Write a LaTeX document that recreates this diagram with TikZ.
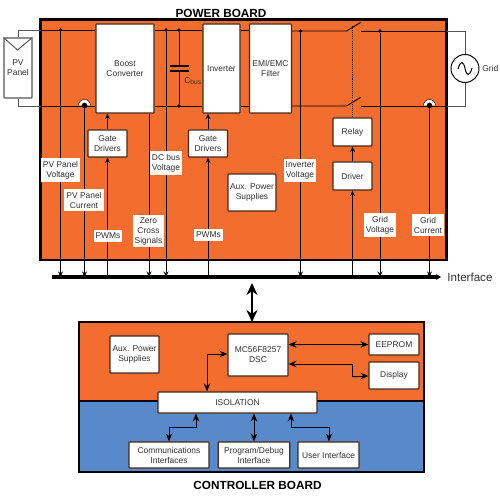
\documentclass[tikz,border=0pt]{standalone}
\usepackage{fontspec}
\setmainfont{Liberation Sans}
\usepackage{xcolor}
\usetikzlibrary{arrows.meta, positioning, calc}
\definecolor{cOrange}{RGB}{243,110,46}
\definecolor{cBlue}{RGB}{88,137,203}
\definecolor{cEdge}{RGB}{70,40,25}
\definecolor{cText}{RGB}{50,50,50}
\definecolor{cWire}{RGB}{85,85,85}
\tikzset{
	boxsize/.style 2 args={minimum width=#1*0.02cm, minimum height=#2*0.02cm},
	blk/.style     ={rectangle, draw=cEdge, line width=0.6pt, fill=white, align=center, text=cText, inner sep=0pt, rounded corners=0.3pt},
	lbl/.style     ={rectangle, fill=white, align=center, text=cText, inner xsep=1.1pt, inner ysep=1.5pt},
	title/.style   ={font=\fontsize{6.7}{8}\selectfont\bfseries, text=black},
	% wires and signals
	wire/.style    ={line width=0.55pt, black!85!cEdge},
	extwire/.style ={line width=0.55pt, cWire},
	sig/.style     ={-{Stealth[length=1.1mm, width=1mm]}, line width=0.5pt, black!85!cEdge},
	dblsig/.style  ={{Stealth[length=1.6mm, width=1.3mm]}-{Stealth[length=1.6mm, width=1.3mm]}, line width=0.55pt, black},
	joint/.style   ={circle, fill=black, minimum size=0.075cm, inner sep=0pt},
	hook/.style    ={fill=white, draw=black, line width=0.25pt},
}
\begin{document}
\begin{tikzpicture}[x=0.02cm, y=-0.02cm, font=\fontsize{4.8}{5.7}\selectfont]
	\useasboundingbox (0,0) rectangle (500,496);
	% boards
	\filldraw[fill=cOrange, draw=black, line width=1.2pt] (40.5,19.5) rectangle (446.5,260);
	\fill[cOrange] (79,322) rectangle (424,401);
	\fill[cBlue] (79,401) rectangle (424,472);
	\draw[black, line width=1.2pt] (79,322) rectangle (424,472);
	\draw[black, line width=1.2pt] (79,401) -- (424,401);
	\node[title] (powerTitle) at (221,13) {POWER BOARD};
	\node[title] (ctrlTitle) at (257.5,485) {CONTROLLER BOARD};

	% power board blocks
	\node[blk, boxsize={28}{60}, draw=cWire] (pvPanel) at (18,68) {PV\\Panel};
	\node[blk, boxsize={58}{89}] (boostConv) at (125,68.5) {Boost\\Converter};
	\node[blk, boxsize={37}{89}] (inverter) at (221.5,68.5) {Inverter};
	\node[blk, boxsize={42}{89}] (emiFilter) at (270.5,68.5) {EMI/EMC\\Filter};
	\node[blk, boxsize={39}{28}] (relay) at (352.5,132) {Relay};
	\node[blk, boxsize={39}{28}] (driver) at (352.5,176) {Driver};
	\node[blk, boxsize={39}{27}] (gateA) at (107.5,143.5) {Gate\\Drivers};
	\node[blk, boxsize={39}{27}] (gateB) at (208,143.5) {Gate\\Drivers};
	\node[blk, boxsize={48}{37}] (auxPower) at (252,192.5) {Aux. Power\\Supplies};
	\node[circle, draw=black, line width=0.55pt, fill=white, minimum size=0.56cm, inner sep=0pt] (gridSrc) at (465,68.5) {};
	\node[text=cText, anchor=west, inner sep=0pt] (gridLbl) at (482,68.5) {Grid};

	% junctions
	\coordinate (busL) at (52,277);
	\coordinate (busR) at (441,277);
	\coordinate (pvTopIn) at (40.5,30);
	\coordinate (pvBotIn) at (40.5,106);
	\coordinate (gridTopIn) at (446.5,31);
	\coordinate (gridBotIn) at (446.5,106);
	\coordinate (swTopA) at (346.5,31);
	\coordinate (swTopB) at (360.5,31);
	\coordinate (swBotA) at (346.5,106);
	\coordinate (swBotB) at (360.5,106);
	\coordinate (bladeTop) at (360.5,22.5);
	\coordinate (bladeBot) at (360.5,97.5);
	\coordinate (linkTop) at (352.5,25);
	\coordinate (hookA) at (84.5,105.5);
	\coordinate (hookB) at (429.5,105.5);
	\coordinate (capPlateA) at (179,66);
	\coordinate (capPlateB) at (179,71);
	\node[joint] (dotPv) at (60.5,30) {};
	\node[joint] (dotDc) at (166,30) {};
	\node[joint] (dotCapT) at (179,30) {};
	\node[joint] (dotCapB) at (179,106) {};
	\node[joint] (dotInv) at (300.5,31) {};
	\node[joint] (dotGrid) at (380,31) {};

	% outside wires
	\draw[extwire] (pvPanel.north) |- (pvTopIn);
	\draw[extwire] (pvPanel.south) |- (pvBotIn);
	\draw[extwire] (gridTopIn) -| (gridSrc.north);
	\draw[extwire] (gridBotIn) -| (gridSrc.south);
	\draw[extwire] (pvPanel.north west) -- (17.5,50) -- (pvPanel.north east);
	\draw[line width=0.55pt] (458,69) .. controls (460.5,60) and (463.5,61) .. (465,68.5) .. controls (466.5,76) and (469.5,77) .. (472,68);

	% power rails
	\draw[wire] (pvTopIn) -- (pvTopIn -| boostConv.west);
	\draw[wire] (pvBotIn) -- (pvBotIn -| boostConv.west);
	\draw[wire] (pvTopIn -| boostConv.east) -- (pvTopIn -| inverter.west);
	\draw[wire] (pvBotIn -| boostConv.east) -- (pvBotIn -| inverter.west);
	\draw[wire] (pvTopIn -| inverter.east) -- (pvTopIn -| emiFilter.west);
	\draw[wire] (pvBotIn -| inverter.east) -- (pvBotIn -| emiFilter.west);
	\draw[wire] (swTopA -| emiFilter.east) -- (swTopA) -- (bladeTop);
	\draw[wire] (swBotA -| emiFilter.east) -- (swBotA) -- (bladeBot);
	\draw[wire] (swTopB) -- (gridTopIn);
	\draw[wire] (swBotB) -- (gridBotIn);
	\draw[wire, dash pattern=on 0.6pt off 0.6pt] (relay.north) -- (linkTop);
	% capacitor
	\draw[wire] (dotCapT) -- (capPlateA);
	\draw[wire] (dotCapB) -- (capPlateB);
	\draw[black, line width=1.2pt] ($(capPlateA)+(-9.5,0)$) -- ($(capPlateA)+(9.5,0)$);
	\draw[black, line width=1.2pt] ($(capPlateB)+(-9.5,0)$) -- ($(capPlateB)+(9.5,0)$);
	\node[text=cEdge, anchor=west, inner sep=0pt] (capLbl) at (184,81) {C\raisebox{-0.4ex}{\fontsize{3.8}{4}\selectfont bus}};

	% signals to the interface
	\draw[sig] (dotPv) -- (dotPv |- busL);
	\draw[sig] (hookA) -- (hookA |- busL);
	\draw[sig] (boostConv.south -| 149,0) -- (149,277);
	\draw[sig] (dotDc) -- (dotDc |- busL);
	\draw[sig] (dotInv) -- (dotInv |- busL);
	\draw[sig] (dotGrid) -- (dotGrid |- busL);
	\draw[sig] (hookB) -- (hookB |- busL);
	% signals from the interface
	\draw[sig] (gateA.south |- busL) -- (gateA.south);
	\draw[sig] (gateB.south |- busL) -- (gateB.south);
	\draw[sig] (driver.south |- busL) -- (driver.south);
	\draw[sig] (driver.north) -- (relay.south);
	\draw[sig] (gateA.north) -- (gateA.north |- boostConv.south);
	\draw[sig] (gateB.north) -- (gateB.north |- inverter.south);
	% sensing hooks
	\draw[hook] ($(hookA)+(-6,0)$) arc (180:360:6);
	\draw[hook] ($(hookB)+(-6,0)$) arc (180:360:6);
	\node[joint, minimum size=0.11cm] (hookDotA) at (hookA) {};
	\node[joint, minimum size=0.11cm] (hookDotB) at (hookB) {};

	% signal labels
	\node[lbl] (lblPvV) at (60.5,170) {PV Panel\\Voltage};
	\node[lbl] (lblPvI) at (84,200) {PV Panel\\Current};
	\node[lbl] (lblPwmA) at (108,236) {PWMs};
	\node[lbl] (lblZero) at (148.5,231) {Zero\\Cross\\Signals};
	\node[lbl] (lblDc) at (166,163) {DC bus\\Voltage};
	\node[lbl] (lblPwmB) at (208.5,235) {PWMs};
	\node[lbl] (lblInv) at (300,170.5) {Inverter\\Voltage};
	\node[lbl] (lblGridV) at (380,225) {Grid\\Voltage};
	\node[lbl] (lblGridI) at (428,225) {Grid\\Current};

	% interface bus
	\draw[-{Stealth[length=1mm, width=1.2mm]}, line width=1.9pt, black] (busL) -- (busR);
	\node[anchor=west, inner sep=0pt, text=cText, font=\fontsize{6.6}{8}\selectfont] (busLbl) at (447,277) {Interface};
	\coordinate (linkA) at (252,283);
	\coordinate (linkB) at (252,322);
	\draw[{Stealth[length=2.4mm, width=2.2mm]}-{Stealth[length=2.4mm, width=2.2mm]}, line width=1.6pt, black] (linkA) -- (linkB);

	% controller board blocks
	\node[blk, boxsize={49}{37}] (auxCtrl) at (134.5,354.5) {Aux. Power\\Supplies};
	\node[blk, boxsize={60}{42}] (dsc) at (258,355) {MC56F8257\\DSC};
	\node[blk, boxsize={50}{21}] (eeprom) at (394,344.5) {EEPROM};
	\node[blk, boxsize={50}{27}] (display) at (394,375.5) {Display};
	\node[blk, boxsize={159}{21}] (isolation) at (237.5,402.5) {ISOLATION};
	\node[blk, boxsize={80}{26}] (commIf) at (169,455) {Communications\\Interfaces};
	\node[blk, boxsize={71.5}{26}] (progIf) at (254,455) {Program/Debug\\Interface};
	\node[blk, boxsize={61}{26}] (userIf) at (328.5,455) {User Interface};

	% controller board links
	\draw[dblsig] (dsc.east |- eeprom.west) -- (eeprom.west);
	\draw[dblsig] (dsc.east |- 0,364) -| (352,376) -- (display.west |- 0,376);
	\draw[dblsig] (isolation.north -| 207,0) |- (dsc.west |- 0,354);
	\draw[dblsig] (isolation.south -| 196,0) |- (169,427) -- (commIf.north);
	\draw[dblsig] (isolation.south -| progIf.north) -- (progIf.north);
	\draw[dblsig] (isolation.south -| 291,0) |- (329,427) -- (userIf.north -| 329,0);
\end{tikzpicture}
\end{document}
